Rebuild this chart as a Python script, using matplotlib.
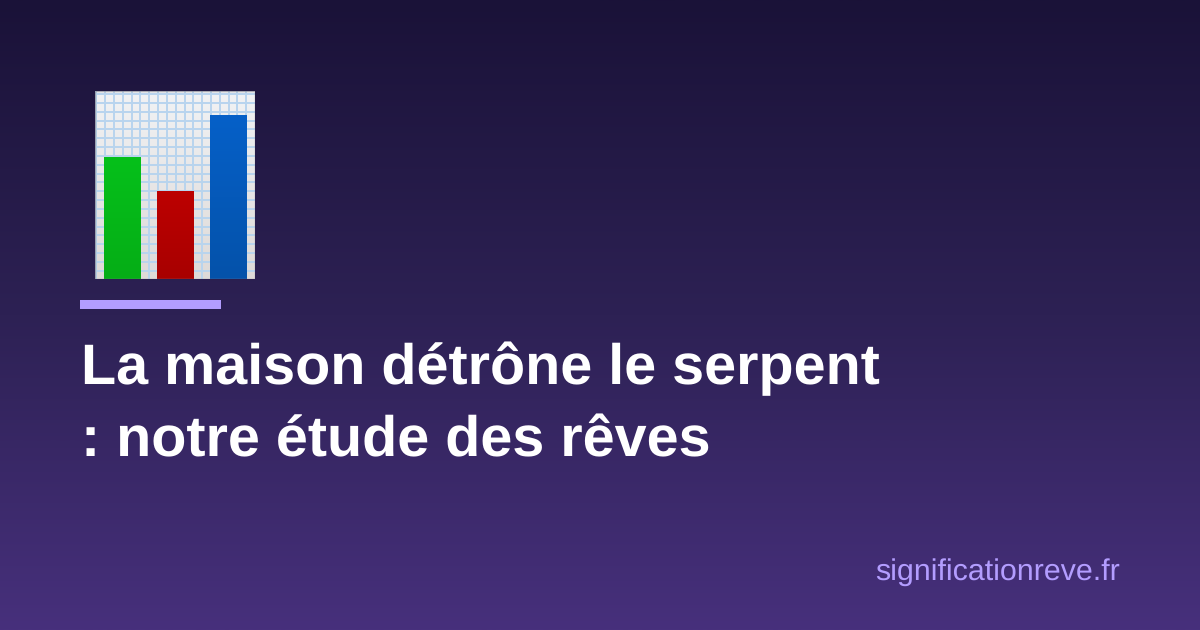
import numpy as np
import matplotlib
matplotlib.use("Agg")
import matplotlib.pyplot as plt
from matplotlib.colors import LinearSegmentedColormap
from matplotlib.patches import Rectangle

# Text and values
title_lines = ["La maison détrône le serpent", ": notre étude des rêves"]
site_label = "significationreve.fr"
bar_heights = [122, 88, 164]
bar_centers = [27.5, 80.5, 133.5]
bar_tops = ["#06c01a", "#bc0000", "#0660c8"]
bar_bottoms = ["#05ae16", "#a80000", "#0452aa"]

W, H = 1200, 630
plt.rcParams['font.family'] = ['Liberation Sans', 'DejaVu Sans']
plt.rcParams['text.hinting'] = 'no_hinting'

fig = plt.figure(figsize=(12, 6.3), dpi=100)

# Background gradient, whole figure in pixel coordinates
ax = fig.add_axes([0, 0, 1, 1])
ax.set_xlim(0, W)
ax.set_ylim(H, 0)
ax.axis('off')
bg = LinearSegmentedColormap.from_list("bg", ["#1a1238", "#2d2154", "#47307c"])
ax.imshow(np.linspace(0, 1, 256).reshape(-1, 1), cmap=bg, aspect='auto', extent=[0, W, H, 0], zorder=0)

# Accent rule
ax.fill_between([80, 221], 300, 309, color="#b39dff", lw=0, zorder=1)

# Title and site name
ax.text(81, 384, title_lines[0], color="white", fontsize=41.4, fontweight='bold', va='baseline', ha='left')
ax.text(81, 456, title_lines[1], color="white", fontsize=41.4, fontweight='bold', va='baseline', ha='left')
ax.text(1120, 580, site_label, color="#b39dff", fontsize=21.85, va='baseline', ha='right')

# Bar chart icon
icon = fig.add_axes([95 / W, 1 - 279 / H, 160 / W, 188 / H])
icon.set_xlim(0, 160)
icon.set_ylim(0, 188)
icon.axis('off')
paper = LinearSegmentedColormap.from_list("paper", ["#f1f2f4", "#dedad8"])
icon.imshow(np.linspace(0, 1, 64).reshape(-1, 1), cmap=paper, aspect='auto', extent=[0, 160, 0, 188], zorder=0)
for gx in np.arange(1.2, 160, 8.83):
    icon.axvline(gx, color="#b8d4ee", lw=1.4, zorder=1)
for gy in np.arange(8.3, 188, 8.83):
    icon.axhline(gy, color="#b8d4ee", lw=1.4, zorder=1)
icon.add_patch(Rectangle((0, 0), 160, 188, fill=False, edgecolor="#8c8c96", lw=1, alpha=0.7, zorder=3))

for center, height, top, bottom in zip(bar_centers, bar_heights, bar_tops, bar_bottoms):
    cmap = LinearSegmentedColormap.from_list("b", [top, bottom])
    icon.imshow(np.linspace(0, 1, 64).reshape(-1, 1), cmap=cmap, aspect='auto',
                extent=[center - 18.5, center + 18.5, 0, height], zorder=2)
icon.set_xlim(0, 160)
icon.set_ylim(0, 188)

fig.savefig("out.png", dpi=100)
